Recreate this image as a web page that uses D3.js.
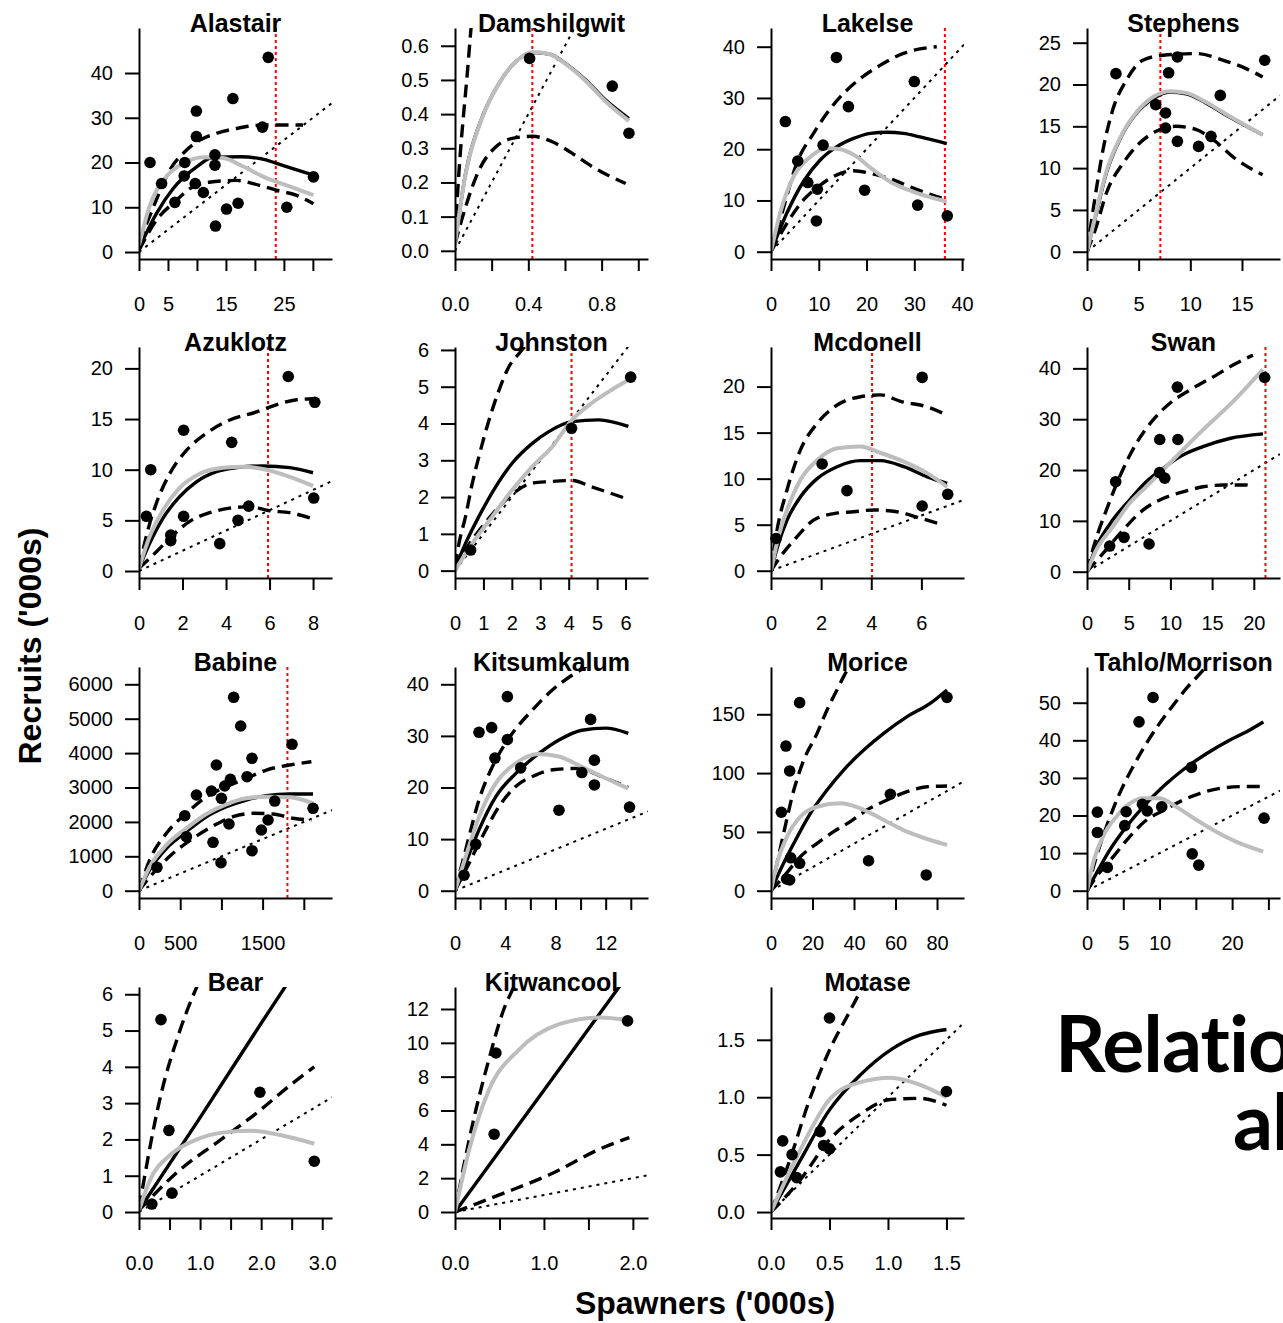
<!DOCTYPE html>
<html>
<head>
<meta charset="utf-8">
<script src="https://cdn.jsdelivr.net/npm/d3@7"></script>
<style>
  body { margin: 0; background: #fff; }
  text { font-family: "Liberation Sans", Arial, sans-serif; }
</style>
</head>
<body>
<svg id="chart"></svg>
<script>
// Data
const stocks = ['Alastair', 'Damshilgwit', 'Lakelse', 'Stephens',
                'Azuklotz', 'Johnston', 'Mcdonell', 'Swan',
                'Babine', 'Kitsumkalum', 'Morice', 'Tahlo/Morrison',
                'Bear', 'Kitwancool', 'Motase'];

// axis extents (spawners, recruits)
const xDomains = [[0,33.3],[0,1.053],[0,40.4],[0,18.68],
                  [0,8.87],[0,6.79],[0,7.7],[0,23.14],
                  [0,2342],[0,15.37],[0,93],[0,26.6],
                  [0,3.16],[0,2.17],[0,1.65]];
const yDomains = [[-1.56,50.06],[-0.024,0.652],[-1.42,43.65],[-0.87,26.76],
                  [-0.69,22.11],[-0.2,6.08],[-0.79,24.3],[-1.24,44.2],
                  [-212,6503],[-1.41,43.35],[-6.2,190.2],[-1.94,59.5],
                  [-0.165,6.2],[-0.355,13.3],[-0.052,1.96]];

const xTicks = [[0,5,10,15,20,25,30],[0,0.2,0.4,0.6,0.8,1.0],[0,10,20,30,40],[0,5,10,15],
                [0,2,4,6,8],[0,1,2,3,4,5,6],[0,2,4,6],[0,5,10,15,20],
                [0,500,1000,1500,2000],[0,2,4,6,8,10,12,14],[0,20,40,60,80],[0,5,10,15,20,25],
                [0,0.5,1,1.5,2,2.5,3],[0,0.5,1,1.5,2],[0,0.5,1,1.5]];
const xLabels = [[0,5,15,25],[0,0.4,0.8],[0,10,20,30,40],[0,5,10,15],
                 [0,2,4,6,8],[0,1,2,3,4,5,6],[0,2,4,6],[0,5,10,15,20],
                 [0,500,1500],[0,4,8,12],[0,20,40,60,80],[0,5,10,20],
                 [0,1,2,3],[0,1,2],[0,0.5,1,1.5]];
const yTicks = [[0,10,20,30,40],[0,0.1,0.2,0.3,0.4,0.5,0.6],[0,10,20,30,40],[0,5,10,15,20,25],
                [0,5,10,15,20],[0,1,2,3,4,5,6],[0,5,10,15,20],[0,10,20,30,40],
                [0,1000,2000,3000,4000,5000,6000],[0,10,20,30,40],[0,50,100,150],[0,10,20,30,40,50],
                [0,1,2,3,4,5,6],[0,2,4,6,8,10,12],[0,0.5,1,1.5]];
const xDecimals = [0,1,0,0, 0,0,0,0, 0,0,0,0, 1,1,1];
const yDecimals = [0,1,0,0, 0,0,0,0, 0,0,0,0, 0,0,1];

// observed spawner / recruit pairs
const points = [
  [[1.9,20.0],[22.3,43.5],[16.2,34.3],[9.9,31.5],[9.9,25.8],[21.3,27.9],[13.1,21.7],[7.9,20.0],[13.1,19.4],[3.9,15.3],[9.7,15.3],[11.1,13.3],[7.8,17.0],[6.2,11.1],[17.1,10.9],[15.1,9.6],[25.5,10.0],[13.2,5.8],[30.1,16.8]],
  [[0.407,0.563],[0.858,0.482],[0.949,0.344]],
  [[3.0,25.4],[13.7,37.9],[16.2,28.3],[30.0,33.2],[10.9,20.8],[5.6,17.7],[7.7,13.5],[9.7,12.2],[9.5,6.0],[19.6,12.0],[30.7,9.1],[36.9,7.0]],
  [[2.8,21.3],[8.75,23.3],[7.9,21.4],[17.2,22.9],[12.9,18.7],[6.65,17.6],[7.6,16.6],[7.6,14.8],[8.75,13.2],[10.8,12.6],[12.0,13.8]],
  [[6.86,19.2],[8.08,16.65],[2.05,13.9],[4.26,12.7],[0.54,10.0],[0.34,5.4],[2.05,5.4],[5.04,6.4],[4.55,5.0],[1.46,3.55],[1.46,3.0],[3.71,2.7],[8.03,7.2]],
  [[6.18,5.26],[4.10,3.87],[0.55,0.56]],
  [[6.03,21.0],[2.04,11.6],[3.03,8.7],[6.03,7.03],[7.05,8.3],[0.2,3.5]],
  [[21.3,38.2],[10.84,36.3],[8.72,26.0],[10.9,26.0],[8.7,19.5],[9.32,18.4],[3.44,17.7],[4.44,6.76],[2.72,5.05],[7.44,5.45]],
  [[1149,5622],[1234,4788],[1857,4256],[1371,3849],[939,3654],[1109,3238],[1311,3314],[1040,3044],[879,2898],[697,2782],[1000,2686],[555,2180],[1647,2607],[1566,2055],[1092,1939],[1485,1765],[575,1570],[898,1407],[1371,1163],[995,814],[2112,2395],[218,680]],
  [[4.17,37.6],[10.8,33.2],[2.92,31.6],[1.91,30.7],[4.17,29.3],[3.18,25.7],[5.23,23.8],[11.1,25.3],[10.1,22.9],[11.1,20.5],[8.28,15.6],[13.9,16.2],[1.65,9.0],[0.72,3.0]],
  [[13.8,159.9],[7.2,123],[9.0,101.8],[5.0,66.7],[57.5,82],[84.8,164.4],[47.0,25.5],[74.8,13.4],[13.8,23.3],[9.0,9.1],[7.5,10],[9.5,28]],
  [[9.1,51.4],[7.17,44.9],[14.4,32.8],[24.4,19.3],[1.43,20.9],[1.43,15.5],[5.2,17.3],[7.64,23.0],[8.3,21.2],[10.3,22.3],[14.5,9.8],[15.4,6.8],[2.8,6.2],[5.4,21.0]],
  [[0.36,5.3],[0.49,2.25],[0.54,0.52],[0.21,0.22],[1.98,3.3],[2.87,1.4]],
  [[1.94,11.3],[0.46,9.4],[0.44,4.6]],
  [[0.5,1.69],[1.5,1.05],[0.1,0.62],[0.18,0.5],[0.22,0.3],[0.42,0.7],[0.45,0.58],[0.5,0.55],[0.08,0.35]]
];

// fitted curve (black)
const fitBlack = [
  [[0,0.8],[3.0,8.6],[5.9,14.2],[10,19.1],[12.9,21.2],[17.5,21.3],[21.5,20.7],[24.9,19.3],[30.1,17.2]],
  [[0,0.02],[0.058,0.227],[0.149,0.392],[0.24,0.49],[0.331,0.553],[0.422,0.58],[0.513,0.576],[0.604,0.548],[0.713,0.5],[0.822,0.441],[0.949,0.387]],
  [[0,0],[3.3,7.5],[6.8,13.7],[10.3,17.9],[13.8,20.5],[17.3,22.1],[20.8,23.1],[24.3,23.3],[27.7,23.1],[31.2,22.4],[36.8,21.1]],
  [[0,0],[0.9,4.6],[1.87,9.4],[3.16,13.4],[4.8,16.6],[6.4,18.3],[8.0,19.1],[9.6,18.9],[11.5,17.8],[13.8,16.1],[17.0,14.0]],
  [[0,0.26],[0.49,2.73],[1.10,5.2],[1.87,7.34],[2.64,8.8],[3.56,9.8],[4.48,10.2],[5.70,10.37],[6.93,10.2],[8.0,9.7]],
  [[0,0.05],[0.37,0.74],[0.84,1.47],[1.43,2.28],[2.01,2.92],[2.72,3.46],[3.3,3.78],[4.12,4.05],[5.06,4.1],[6.1,3.92]],
  [[0,0],[0.3,2.97],[0.64,5.5],[1.17,8.0],[1.84,10.0],[2.64,11.3],[3.57,11.96],[4.37,11.96],[5.3,11.3],[6.23,10.2],[7.03,9.5]],
  [[0,0],[1.12,4.9],[3.1,10.2],[5.1,14.1],[7.1,17.7],[9.1,20.3],[11.1,22.6],[13.9,24.6],[17.1,26.2],[21.1,27.1]],
  [[0,0],[130,602],[333,1233],[575,1715],[818,2151],[1061,2442],[1303,2637],[1546,2762],[1829,2811],[2112,2811]],
  [[0,0],[0.85,5.3],[1.91,11.8],[3.24,18.2],[4.83,22.7],[6.69,26.6],[8.28,29.2],[10.1,31.1],[12.0,31.5],[13.8,30.5]],
  [[0,0],[4.5,17.6],[11.0,40.3],[19.0,65.8],[27.0,85.6],[35.0,102.6],[44.7,119.6],[54.3,133.8],[65.6,148],[76.7,159.3],[84.8,170.7]],
  [[0,0],[1.29,4.6],[3.13,10.8],[5.43,17.0],[7.73,22.3],[10.5,27.7],[13.2,32.1],[16.5,36.5],[19.7,40.1],[22.0,42.3],[24.3,44.9]],
  [[0,0.05],[1,2.6],[2,5.2],[2.45,6.35]],
  [[0,0],[1,7.2],[1.9,13.7]],
  [[0,0],[0.25,0.45],[0.5,0.89],[0.76,1.19],[1.02,1.41],[1.27,1.54],[1.5,1.59]]
];

// alternative fit (grey)
const fitGrey = [
  [[0,1.5],[1.8,10.1],[4.7,16.8],[7.6,19.8],[11.1,21.2],[14.5,21.0],[18,19.1],[21.5,16.8],[26.1,14.6],[30.1,12.7]],
  [[0,0.02],[0.058,0.225],[0.149,0.39],[0.24,0.49],[0.331,0.553],[0.422,0.582],[0.513,0.576],[0.604,0.546],[0.713,0.497],[0.822,0.437],[0.949,0.38]],
  [[0,0],[1.9,7.5],[4.7,14.6],[8.2,18.5],[11.7,20.2],[14.5,20.0],[17.3,18.9],[21.5,15.9],[25.6,13.3],[29.8,11.7],[36.8,9.8]],
  [[0,0],[0.9,4.8],[1.87,9.6],[3.16,13.5],[4.8,16.7],[6.4,18.5],[8.0,19.2],[9.6,19.0],[11.5,17.9],[13.8,16.2],[17.0,14.0]],
  [[0,0.26],[0.49,3.4],[1.1,6.0],[1.87,8.2],[2.79,9.6],[3.87,10.2],[4.79,10.3],[5.86,10.0],[6.93,9.3],[8.0,8.4]],
  [[0,0],[0.61,0.74],[1.31,1.47],[2.01,2.19],[2.72,2.83],[3.42,3.37],[4.12,4.1],[4.8,4.55],[5.5,4.91],[6.1,5.18]],
  [[0,0],[0.3,3.7],[0.64,6.6],[1.17,9.86],[1.84,12.0],[2.64,13.3],[3.57,13.5],[4.37,12.8],[5.3,11.85],[6.23,10.6],[7.03,9.1]],
  [[0,0],[1.12,4.3],[3.1,8.85],[5.1,13.45],[7.1,16.7],[9.1,20.0],[11.1,23.3],[13.9,27.9],[17.1,32.8],[21.1,39.8]],
  [[0,0],[130,698],[333,1329],[575,1814],[818,2230],[1061,2512],[1303,2686],[1546,2733],[1829,2715],[2112,2541]],
  [[0,0],[0.85,6.6],[1.91,14.3],[3.24,20.8],[4.83,24.7],[6.69,26.5],[8.28,26.0],[10.1,24.0],[12.0,21.8],[13.8,19.8]],
  [[0,0],[2.9,23.3],[7.7,45.9],[14.1,62.9],[22.2,71.4],[33.4,74.3],[43.0,70.1],[54.3,60.1],[65.5,50.2],[76.7,43.1],[84.8,38.9]],
  [[0,0],[0.83,7.3],[2.2,14.4],[4.04,19.7],[5.9,23.2],[7.7,24.6],[10.0,24.6],[12.3,22.3],[15.1,18.8],[17.8,15.7],[20.6,13.0],[24.3,10.4]],
  [[0,0.05],[0.18,0.88],[0.51,1.57],[0.92,1.98],[1.33,2.18],[1.82,2.24],[2.31,2.12],[2.87,1.88]],
  [[0,0],[0.16,3.7],[0.38,7.2],[0.72,9.6],[1.17,11.1],[1.62,11.5],[2.0,11.3]],
  [[0,0],[0.25,0.54],[0.5,0.98],[0.76,1.13],[1.02,1.17],[1.27,1.11],[1.5,1.0]]
];

// interval bounds (dashed)
const bandUpper = [
  [[0,2.0],[2.5,10.1],[5.3,18.3],[7.9,22.4],[10.5,25.0],[13.3,26.5],[16.8,27.6],[21.4,28.4],[26.0,28.4],[28.3,28.4]],
  [[0,0.04],[0.013,0.16],[0.031,0.3],[0.049,0.412],[0.067,0.519],[0.085,0.636],[0.095,0.7]],
  [[0,0],[2.6,8.5],[5.4,17.3],[8.9,23.1],[11.7,27.0],[15.2,30.9],[18.7,33.8],[22.9,36.4],[27.7,38.7],[34.7,40.0]],
  [[0,0],[0.74,6.2],[1.55,12.2],[2.5,17.0],[3.8,20.5],[5.4,22.9],[7.4,23.5],[10.6,23.7],[13.2,22.9],[15.4,21.9],[17.0,20.9]],
  [[0,0.26],[0.41,4.05],[0.8,6.7],[1.41,9.6],[2.18,11.9],[3.1,13.6],[4.17,14.9],[5.4,15.7],[6.3,16.4],[7.24,16.9],[8.0,17.0]],
  [[0,0.1],[0.14,0.74],[0.37,1.47],[0.61,2.38],[0.84,3.1],[1.2,4.1],[1.55,4.91],[1.9,5.55],[2.26,5.91],[2.7,6.3]],
  [[0,0],[0.24,4.4],[0.64,8.8],[1.17,13.1],[1.84,16.0],[2.64,18.0],[3.57,18.9],[4.37,19.1],[5.17,18.4],[6.23,17.8],[7.03,16.9]],
  [[0,0],[0.92,5.6],[2.32,12.1],[3.92,18.7],[5.9,25.2],[7.9,29.8],[9.9,33.1],[12.3,35.7],[15.1,38.3],[17.9,41.0],[19.9,42.6]],
  [[0,0],[130,892],[333,1669],[575,2250],[818,2733],[1061,3024],[1303,3267],[1546,3508],[1829,3654],[2092,3750]],
  [[0,0],[0.85,7.9],[1.91,17.6],[3.24,25.3],[4.57,30.5],[6.16,35.0],[7.75,38.9],[9.34,41.8],[10.4,43.4],[11.2,45]],
  [[0,0],[2.9,23.3],[6.1,48.8],[11.0,85.6],[15.8,111.1],[22.2,133.8],[27.0,153.7],[31.8,170.7],[35.0,182],[38.5,193]],
  [[0,0],[1.29,9.0],[2.67,17.0],[4.5,25.9],[6.35,33.0],[8.2,39.2],[10.0,44.5],[11.9,49.4],[13.7,53.8],[15.6,57.8],[17,61]],
  [[0,0.1],[0.34,3.1],[0.67,5.0],[0.92,6.1],[1.0,6.4]],
  [[0,0],[0.16,4.3],[0.38,9.0],[0.55,12.0],[0.66,13.3],[0.7,13.8]],
  [[0,0],[0.16,0.45],[0.33,0.98],[0.5,1.41],[0.68,1.76],[0.78,1.96],[0.82,2.05]]
];
const bandLower = [
  [[0,0.4],[3,7.1],[6.4,11.5],[8.7,14.1],[12.1,15.6],[16.8,16.0],[20.8,14.9],[23.7,13.8],[27.1,12.7],[30.1,10.8]],
  [[0,0.02],[0.058,0.129],[0.131,0.236],[0.222,0.304],[0.313,0.329],[0.422,0.335],[0.531,0.319],[0.64,0.285],[0.749,0.246],[0.931,0.197]],
  [[0,0],[3.3,5.5],[6.8,10.1],[10.3,13.0],[13.8,15.0],[17.3,15.8],[20.8,15.3],[25.6,14.0],[29.8,12.4],[36.8,10.1]],
  [[0,0],[0.9,3.0],[1.87,7.0],[3.5,10.6],[5.1,13.0],[6.7,14.4],[8.6,15.0],[10.6,14.6],[12.2,13.4],[14.5,11.0],[17.0,9.2]],
  [[0,0.26],[0.8,1.9],[1.56,3.55],[2.33,4.9],[3.25,5.76],[4.17,6.2],[5.09,6.35],[6.0,5.95],[6.93,5.76],[7.93,5.2]],
  [[0,0],[0.37,0.56],[0.96,1.2],[1.55,1.74],[2.13,2.15],[2.72,2.38],[3.3,2.42],[4.12,2.45],[4.8,2.28],[5.98,1.97]],
  [[0,0],[0.37,1.5],[1.04,3.7],[1.7,5.5],[2.5,6.2],[3.3,6.4],[4.1,6.6],[5.03,6.4],[5.96,5.7],[6.83,5.0]],
  [[0,0],[1.92,3.6],[4.32,8.2],[6.7,12.1],[9.1,14.4],[11.5,15.7],[13.9,16.7],[16.3,17.05],[19.1,17.05],[19.8,16.7]],
  [[0,0],[170,506],[413,1087],[656,1523],[898,1881],[1141,2151],[1384,2250],[1627,2230],[1869,2105],[2092,2055]],
  [[0,0],[0.85,4.0],[2.18,10.5],[3.5,16.3],[4.83,20.2],[6.42,22.4],[8.0,23.5],[9.87,23.7],[11.7,22.1],[13.8,20.0]],
  [[0,0],[6.1,11.9],[14.1,28.9],[22.2,40.3],[30.2,50.2],[38.2,58.7],[46.2,68.6],[55.9,77.1],[65.5,84.2],[75.1,88.4],[84.8,89.0]],
  [[0,0],[1.29,3.7],[3.6,9.0],[5.9,14.4],[8.2,18.8],[10.5,21.3],[12.8,23.7],[15.6,25.9],[18.3,27.2],[21.5,27.7],[24.3,27.7]],
  [[0,0.05],[0.67,1.16],[1.33,1.98],[1.98,2.8],[2.48,3.5],[2.87,4.0]],
  [[0,0],[0.49,1.0],[1.06,2.2],[1.62,3.7],[1.96,4.4]],
  [[0,0],[0.25,0.28],[0.5,0.63],[0.76,0.85],[1.02,0.98],[1.27,0.99],[1.5,0.93]]
];

// red reference spawner level (null = none)
const redLine = [23.6, 0.422, 36.4, 7.1, 5.93, 4.10, 4.03, 21.4, 1801, null, null, null, null, null, null];

// Layout
const width = 1283, height = 1323;
const colLeft = [139, 455, 771, 1087];
const rowTop = [28, 347, 667, 987];
const plotW = 193, plotH = 231;

const svg = d3.select('#chart')
    .attr('width', width)
    .attr('height', height);

const defs = svg.append('defs');

stocks.forEach((name, i) => {
    const left = colLeft[i % 4], top = rowTop[Math.floor(i / 4)];
    const bottom = top + plotH, right = left + plotW;

    const x = d3.scaleLinear().domain(xDomains[i]).range([left, right]);
    const y = d3.scaleLinear().domain(yDomains[i]).range([bottom, top]);

    defs.append('clipPath').attr('id', 'clip' + i)
        .append('rect')
        .attr('x', left).attr('y', top)
        .attr('width', plotW).attr('height', plotH);

    const g = svg.append('g');
    const plot = g.append('g').attr('clip-path', `url(#clip${i})`);

    const line = d3.line()
        .x(d => x(d[0]))
        .y(d => y(d[1]))
        .curve(d3.curveMonotoneX);

    // 1:1 replacement line
    const xMax = xDomains[i][1];
    plot.append('path')
        .attr('d', d3.line().x(d => x(d[0])).y(d => y(d[1]))([[0, 0], [xMax, xMax]]))
        .attr('fill', 'none')
        .attr('stroke', '#000')
        .attr('stroke-width', 2)
        .attr('stroke-dasharray', '3,5');

    // red reference level
    if (redLine[i] !== null) {
        plot.append('line')
            .attr('x1', x(redLine[i])).attr('x2', x(redLine[i]))
            .attr('y1', top).attr('y2', bottom)
            .attr('stroke', '#ff0000')
            .attr('stroke-width', 2)
            .attr('stroke-dasharray', '3,3');
    }

    [bandUpper[i], bandLower[i]].forEach(band => {
        plot.append('path')
            .attr('d', line(band))
            .attr('fill', 'none')
            .attr('stroke', '#000')
            .attr('stroke-width', 3.4)
            .attr('stroke-dasharray', '13,7');
    });

    plot.append('path')
        .attr('d', line(fitBlack[i]))
        .attr('fill', 'none')
        .attr('stroke', '#000')
        .attr('stroke-width', 3.4);

    plot.append('path')
        .attr('d', line(fitGrey[i]))
        .attr('fill', 'none')
        .attr('stroke', '#bdbdbd')
        .attr('stroke-width', 4);

    g.selectAll('circle.obs')
        .data(points[i])
        .join('circle')
        .attr('class', 'obs')
        .attr('cx', d => x(d[0]))
        .attr('cy', d => y(d[1]))
        .attr('r', 5.8)
        .attr('fill', '#000');

    // axes
    const yAxis = g.append('g')
        .attr('transform', `translate(${left},0)`)
        .call(d3.axisLeft(y)
            .tickValues(yTicks[i])
            .tickSize(14)
            .tickSizeOuter(0)
            .tickPadding(12)
            .tickFormat(d3.format(`.${yDecimals[i]}f`)));

    const labelled = xLabels[i];
    const xAxis = g.append('g')
        .attr('transform', `translate(0,${bottom})`)
        .call(d3.axisBottom(x)
            .tickValues(xTicks[i])
            .tickSize(12)
            .tickSizeOuter(0)
            .tickPadding(26)
            .tickFormat(d => labelled.some(v => Math.abs(v - d) < 1e-9) ? d3.format(`.${xDecimals[i]}f`)(d) : ''));

    [yAxis, xAxis].forEach(ax => {
        ax.select('.domain').attr('stroke-width', 2);
        ax.selectAll('.tick line').attr('stroke-width', 2);
        ax.selectAll('.tick text')
            .attr('font-size', 20)
            .attr('fill', '#000')
            .style('font-family', '"Liberation Sans", Arial, sans-serif');
    });

    g.append('text')
        .attr('x', (left + right) / 2)
        .attr('y', top + 4)
        .attr('text-anchor', 'middle')
        .attr('font-size', 25)
        .attr('font-weight', 'bold')
        .text(name);
});

// axis titles
svg.append('text')
    .attr('transform', 'translate(41,646) rotate(-90)')
    .attr('text-anchor', 'middle')
    .attr('font-size', 32)
    .attr('font-weight', 'bold')
    .text("Recruits ('000s)");

svg.append('text')
    .attr('x', 705)
    .attr('y', 1314)
    .attr('text-anchor', 'middle')
    .attr('font-size', 32)
    .attr('font-weight', 'bold')
    .text("Spawners ('000s)");

// slide heading peeking in from the right
svg.append('text')
    .attr('x', 1055).attr('y', 1072)
    .style('font-family', 'Lato, "Open Sans", sans-serif')
    .attr('font-size', 79)
    .attr('font-weight', 'bold')
    .attr('letter-spacing', -1)
    .text('Relatio');

svg.append('text')
    .attr('x', 1233).attr('y', 1150)
    .style('font-family', 'Lato, "Open Sans", sans-serif')
    .attr('font-size', 79)
    .attr('font-weight', 'bold')
    .attr('letter-spacing', -1)
    .text('al');
</script>
</body>
</html>
